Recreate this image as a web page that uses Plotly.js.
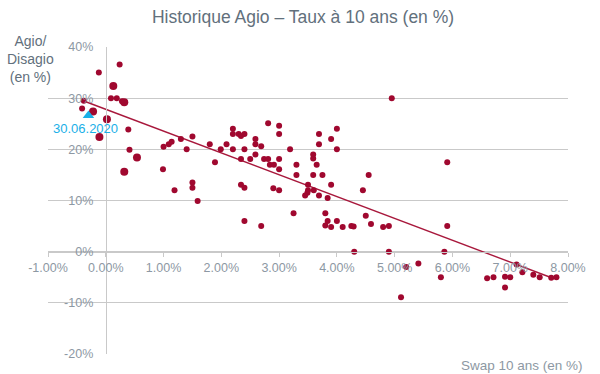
<!DOCTYPE html>
<html>
<head>
<meta charset="utf-8">
<script src="https://cdn.plot.ly/plotly-3.0.1.min.js"></script>
<style>html,body{margin:0;padding:0;background:#fff;}#chart{width:600px;height:374px;}</style>
</head>
<body>
<div id="chart"></div>
<script>
// Swap 10 ans (en %) vs Agio/Disagio (en %)
const swapRate = [-0.12,0.24,0.09,0.19,0.28,-0.38,-0.41,0.39,0.41,1.00,1.09,1.14,1.30,1.50,1.40,0.99,1.50,1.19,1.50,1.59,
  4.95,1.80,1.99,2.09,2.20,2.20,2.20,2.30,2.34,2.40,2.40,2.34,2.50,2.59,2.59,2.69,2.59,2.74,2.81,2.81,
  3.00,3.00,3.00,3.19,3.59,3.59,3.69,3.69,3.90,4.00,4.00,1.89,2.84,2.91,3.00,3.30,3.30,3.65,3.59,3.75,
  4.55,2.34,2.40,2.90,3.00,3.50,3.50,3.49,3.45,3.60,3.69,3.84,3.90,4.45,3.25,3.80,3.84,4.00,3.80,3.90,
  4.10,4.25,4.29,4.50,4.59,4.80,4.90,2.40,2.69,4.30,4.90,5.91,5.91,5.86,5.41,5.20,5.11,5.80,6.60,6.71,
  6.91,6.91,7.00,7.11,7.21,7.40,7.51,7.71,7.80];
const agio = [35.0,36.6,30.0,30.0,29.4,29.5,28.0,23.9,19.9,20.5,21.0,21.5,22.0,22.5,20.0,16.1,13.5,12.0,12.5,9.9,
  30.0,21.0,20.0,21.0,24.0,23.0,20.0,23.0,22.6,23.0,20.0,18.1,18.1,22.0,21.0,20.6,19.0,18.1,18.1,25.1,
  24.6,23.0,18.1,20.0,19.0,18.2,23.0,21.0,22.0,24.0,20.0,17.5,17.0,17.0,16.1,17.0,15.0,17.0,15.0,15.0,
  15.0,13.1,12.5,12.4,12.0,13.1,12.0,11.5,11.0,12.0,11.0,10.5,13.1,12.0,7.5,7.5,6.0,6.0,5.1,4.8,
  4.8,5.0,4.9,7.0,5.4,4.8,5.0,6.0,5.0,0.0,0.0,17.5,5.0,0.0,-2.3,-3.0,-8.9,-5.0,-5.2,-5.0,
  -4.9,-7.0,-5.0,-2.5,-4.0,-4.5,-5.0,-5.1,-5.0];
// points drawn heavier in the reference
const swapRateBold = [0.13,0.32,-0.22,0.02,-0.11,0.54,0.32];
const agioBold = [32.4,29.2,27.4,25.9,22.4,18.4,15.6];
// latest observation
const lastLabel = ["30.06.2020"];
const lastSwap = [-0.30];
const lastAgio = [26.6];
// trend line
const trendSwap = [-0.38, 7.75];
const trendAgio = [29.45, -5.24];
// ticks
const xTickVals = [-1,0,1,2,3,4,5,6,7,8];
const xTickText = ["-1.00%","0.00%","1.00%","2.00%","3.00%","4.00%","5.00%","6.00%","7.00%","8.00%"];
const yTickVals = [40,30,20,10,0,-10,-20];
const yTickText = ["40%","30%","20%","10%","0%","-10%","-20%"];

const red = '#a0082f';
const grid = '#c9c9c9';
const tickCol = '#8d98a3';
const titleCol = '#62707c';
const cyan = '#1ab0e8';
const FONT = 'Liberation Sans, Arial, sans-serif';

const traces = [
  {x: trendSwap, y: trendAgio, mode: 'lines', line: {color: '#a8183c', width: 1.4}, hoverinfo: 'skip'},
  {x: swapRate, y: agio, mode: 'markers', marker: {color: red, size: 6}},
  {x: swapRateBold, y: agioBold, mode: 'markers', marker: {color: red, size: 8}},
  {x: lastSwap, y: lastAgio, mode: 'markers', marker: {color: cyan, size: 10, symbol: 'triangle-up'}}
];

const layout = {
  width: 600, height: 374,
  margin: {l: 48, r: 32, t: 47, b: 20},
  paper_bgcolor: '#fff', plot_bgcolor: '#fff',
  showlegend: false,
  font: {family: FONT, color: tickCol},
  title: {text: 'Historique Agio – Taux à 10 ans (en %)', font: {family: FONT, size: 17.5, color: titleCol},
    x: 0.505, xanchor: 'center', y: 0.955, yanchor: 'middle', yref: 'container'},
  xaxis: {range: [-1, 8], anchor: 'free', position: 1/3, showgrid: false, zeroline: false,
    showline: true, linecolor: grid, linewidth: 1,
    tickvals: xTickVals, ticktext: xTickText, ticks: 'outside', ticklen: 4, tickcolor: grid,
    tickfont: {family: FONT, size: 12.5, color: tickCol}},
  yaxis: {range: [-20, 40], anchor: 'free', position: 1/9, showgrid: true, gridcolor: grid, gridwidth: 1,
    zeroline: false, showline: true, linecolor: grid, linewidth: 1,
    tickvals: yTickVals, ticktext: yTickText, ticks: '', ticklabelstandoff: 10,
    tickfont: {family: FONT, size: 12.5, color: tickCol}},
  annotations: [
    {x: lastSwap[0], y: lastAgio[0], xref: 'x', yref: 'y', text: lastLabel[0], showarrow: false,
      xshift: -3, yshift: -13, font: {family: FONT, size: 13, color: cyan}},
    {x: -0.033, y: 0.961, xref: 'paper', yref: 'paper', text: 'Agio/<br>Disagio<br>(en %)', showarrow: false,
      xanchor: 'center', yanchor: 'middle', align: 'center', font: {family: FONT, size: 14, color: titleCol}},
    {x: 1.033, y: -0.036, xref: 'paper', yref: 'paper', text: 'Swap 10 ans (en %)', showarrow: false,
      xanchor: 'right', yanchor: 'middle', font: {family: FONT, size: 13.5, color: tickCol}}
  ]
};

Plotly.newPlot('chart', traces, layout, {displayModeBar: false, staticPlot: true});
</script>
</body>
</html>
